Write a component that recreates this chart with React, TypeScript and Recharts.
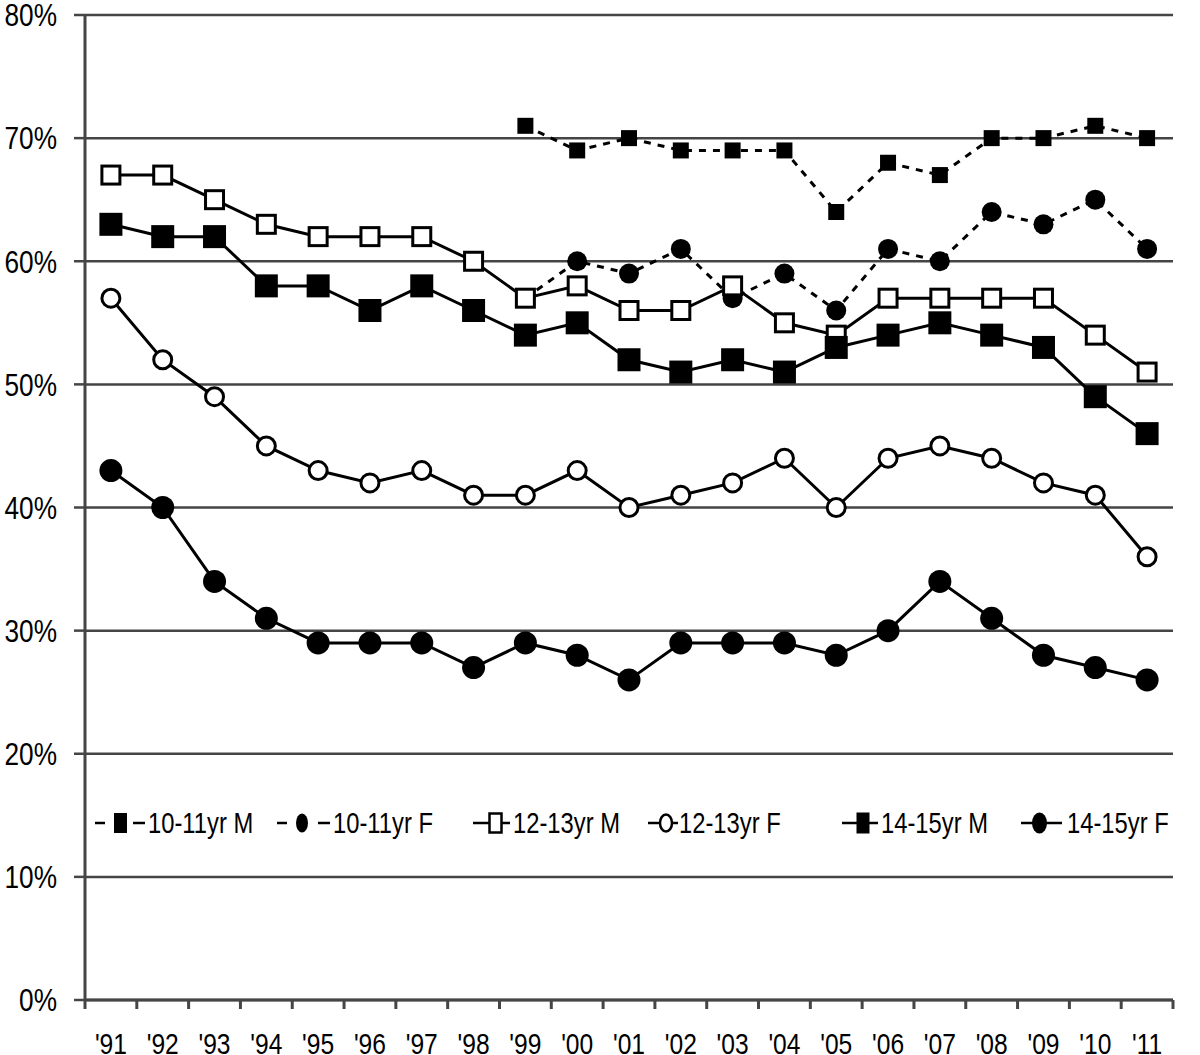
import React from 'react';
import { LineChart, Line, XAxis, YAxis, CartesianGrid, Legend } from 'recharts';

// ---- data ----
const years = ["'91", "'92", "'93", "'94", "'95", "'96", "'97", "'98", "'99", "'00", "'01", "'02", "'03", "'04", "'05", "'06", "'07", "'08", "'09", "'10", "'11"];
const m1011 = [null, null, null, null, null, null, null, null, 71, 69, 70, 69, 69, 69, 64, 68, 67, 70, 70, 71, 70];
const f1011 = [null, null, null, null, null, null, null, null, 57, 60, 59, 61, 57, 59, 56, 61, 60, 64, 63, 65, 61];
const m1213 = [67, 67, 65, 63, 62, 62, 62, 60, 57, 58, 56, 56, 58, 55, 54, 57, 57, 57, 57, 54, 51];
const f1213 = [57, 52, 49, 45, 43, 42, 43, 41, 41, 43, 40, 41, 42, 44, 40, 44, 45, 44, 42, 41, 36];
const m1415 = [63, 62, 62, 58, 58, 56, 58, 56, 54, 55, 52, 51, 52, 51, 53, 54, 55, 54, 53, 49, 46];
const f1415 = [43, 40, 34, 31, 29, 29, 29, 27, 29, 28, 26, 29, 29, 29, 28, 30, 34, 31, 28, 27, 26];
const yTicks = [0, 10, 20, 30, 40, 50, 60, 70, 80];
const seriesNames = ['10-11yr M', '10-11yr F', '12-13yr M', '12-13yr F', '14-15yr M', '14-15yr F'];

const data = years.map((year, i) => ({
  x: i + 0.5,
  year,
  m1011: m1011[i],
  f1011: f1011[i],
  m1213: m1213[i],
  f1213: f1213[i],
  m1415: m1415[i],
  f1415: f1415[i],
}));

// ---- layout / style ----
const FONT = "'Liberation Sans', Arial, sans-serif";
const NARROW = 0.82; // horizontal squeeze to mimic Arial Narrow
const W = 1200;
const H = 1055;
const MARGIN = { top: 15, right: 27, bottom: 0, left: 0 };
const Y_AXIS_W = 85;
const X_AXIS_H = 55;
const PLOT_W = W - MARGIN.left - MARGIN.right - Y_AXIS_W;
const HALF_BAND = PLOT_W / years.length / 2;
const GRID = '#454545';
const xTicks = Array.from({ length: years.length + 1 }, (_, i) => i);

type Kind = 'sqSmall' | 'dotSmall' | 'sqOpen' | 'cirOpen' | 'sqFill' | 'cirFill';

const series: { key: string; kind: Kind; dashed: boolean }[] = [
  { key: 'm1011', kind: 'sqSmall', dashed: true },
  { key: 'f1011', kind: 'dotSmall', dashed: true },
  { key: 'm1213', kind: 'sqOpen', dashed: false },
  { key: 'f1213', kind: 'cirOpen', dashed: false },
  { key: 'm1415', kind: 'sqFill', dashed: false },
  { key: 'f1415', kind: 'cirFill', dashed: false },
];

function NarrowText({ x, y, anchor, size, dy, children }: any) {
  return (
    <text
      transform={`translate(${x},${y}) scale(${NARROW},1)`}
      x={0}
      y={0}
      dy={dy}
      textAnchor={anchor}
      fontSize={size}
      fontFamily={FONT}
      fill="#000"
    >
      {children}
    </text>
  );
}

function Marker({ cx, cy, kind }: { cx: number; cy: number; kind: Kind }) {
  switch (kind) {
    case 'sqSmall':
      return <rect x={cx - 8} y={cy - 8} width={16} height={16} fill="#000" />;
    case 'dotSmall':
      return <circle cx={cx} cy={cy} r={10} fill="#000" />;
    case 'sqOpen':
      return <rect x={cx - 9} y={cy - 9} width={18} height={18} fill="#fff" stroke="#000" strokeWidth={3} />;
    case 'cirOpen':
      return <circle cx={cx} cy={cy} r={9} fill="#fff" stroke="#000" strokeWidth={3} />;
    case 'sqFill':
      return <rect x={cx - 11.5} y={cy - 11.5} width={23} height={23} fill="#000" />;
    case 'cirFill':
      return <circle cx={cx} cy={cy} r={11.5} fill="#000" />;
  }
  return null;
}

function makeDot(key: string, kind: Kind) {
  return (p: any) => {
    if (p.cx == null || p.cy == null || p.value == null || (Array.isArray(p.value) && p.value[1] == null)) {
      return <g key={`${key}-${p.index}`} />;
    }
    return (
      <g key={`${key}-${p.index}`}>
        <Marker cx={p.cx} cy={p.cy} kind={kind} />
      </g>
    );
  };
}

function XTick(props: any) {
  const { x, y, payload } = props;
  if (payload.value >= years.length) return <g />;
  return (
    <NarrowText x={x + HALF_BAND} y={y} dy="0.71em" anchor="middle" size={30}>
      {years[payload.value]}
    </NarrowText>
  );
}

function YTick(props: any) {
  const { x, y, payload } = props;
  return (
    <NarrowText x={x} y={y} dy="0.355em" anchor="end" size={32}>
      {`${payload.value}%`}
    </NarrowText>
  );
}

// legend layout (x positions in page pixels)
const legendLayout = [
  { start: 95, center: 120.5, end: 145, textX: 148 },
  { start: 277, center: 302, end: 330, textX: 333 },
  { start: 473, center: 495.5, end: 510, textX: 513 },
  { start: 648, center: 666, end: 678, textX: 679 },
  { start: 842, center: 863, end: 878, textX: 881 },
  { start: 1021, center: 1039.5, end: 1062, textX: 1067 },
];

function LegendIcon({ kind, cx, cy }: { kind: Kind; cx: number; cy: number }) {
  switch (kind) {
    case 'sqSmall':
      return <rect x={cx - 6.5} y={cy - 10} width={13} height={20} fill="#000" />;
    case 'dotSmall':
      return <ellipse cx={cx} cy={cy} rx={6} ry={9.5} fill="#000" />;
    case 'sqOpen':
      return <rect x={cx - 6} y={cy - 9.5} width={12} height={19} fill="#fff" stroke="#000" strokeWidth={2.5} />;
    case 'cirOpen':
      return <ellipse cx={cx} cy={cy} rx={6} ry={8.5} fill="#fff" stroke="#000" strokeWidth={2.5} />;
    case 'sqFill':
      return <rect x={cx - 6.5} y={cy - 10.5} width={13} height={21} fill="#000" />;
    case 'cirFill':
      return <ellipse cx={cx} cy={cy} rx={7.5} ry={10.5} fill="#000" />;
  }
  return null;
}

function LegendContent() {
  const cy = 20;
  return (
    <svg width={W} height={40} style={{ display: 'block' }}>
      {series.map((s, i) => {
        const l = legendLayout[i];
        return (
          <g key={s.key}>
            {s.dashed ? (
              <>
                <line x1={l.start} x2={l.start + 10} y1={cy} y2={cy} stroke="#000" strokeWidth={2.5} />
                <line x1={l.end - 12} x2={l.end} y1={cy} y2={cy} stroke="#000" strokeWidth={2.5} />
              </>
            ) : (
              <line x1={l.start} x2={l.end} y1={cy} y2={cy} stroke="#000" strokeWidth={2.5} />
            )}
            <LegendIcon kind={s.kind} cx={l.center} cy={cy} />
            <NarrowText x={l.textX} y={cy + 10} anchor="start" size={29}>
              {seriesNames[i]}
            </NarrowText>
          </g>
        );
      })}
    </svg>
  );
}

export default function App() {
  return (
    <div style={{ position: 'absolute', left: 0, top: 0, width: W, height: H, background: '#fff' }}>
      <LineChart width={W} height={H} data={data} margin={MARGIN} style={{ fontFamily: FONT }}>
        <CartesianGrid vertical={false} stroke={GRID} strokeWidth={2.5} />
        <XAxis
          type="number"
          dataKey="x"
          domain={[0, years.length]}
          ticks={xTicks}
          interval={0}
          allowDecimals={false}
          height={X_AXIS_H}
          tickSize={9}
          tickMargin={24}
          tick={<XTick />}
          tickLine={{ stroke: GRID, strokeWidth: 3 }}
          axisLine={{ stroke: GRID, strokeWidth: 3 }}
        />
        <YAxis
          type="number"
          domain={[0, 80]}
          ticks={yTicks}
          interval={0}
          width={Y_AXIS_W}
          tickSize={11}
          tickMargin={17}
          tick={<YTick />}
          tickLine={{ stroke: GRID, strokeWidth: 2.5 }}
          axisLine={{ stroke: GRID, strokeWidth: 3 }}
        />
        <Legend
          layout="horizontal"
          verticalAlign="middle"
          align="center"
          content={<LegendContent />}
          wrapperStyle={{ left: 0, top: 803, width: W, height: 40 }}
        />
        {series.map((s, i) => (
          <Line
            key={s.key}
            dataKey={s.key}
            name={seriesNames[i]}
            type="linear"
            stroke="#000"
            strokeWidth={3}
            strokeDasharray={s.dashed ? '7 7' : undefined}
            dot={makeDot(s.key, s.kind)}
            activeDot={false}
            isAnimationActive={false}
            legendType="none"
          />
        ))}
      </LineChart>
    </div>
  );
}
